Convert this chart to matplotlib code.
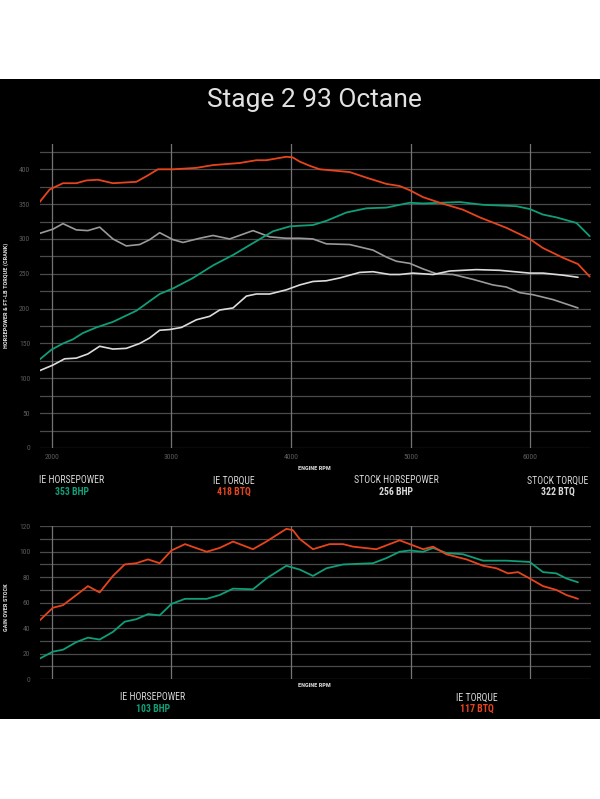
import matplotlib
matplotlib.use("Agg")
import matplotlib.pyplot as plt
from matplotlib.patches import Rectangle

# ---------------- data ----------------
title = "Stage 2 93 Octane"
x_ticks = [2000, 3000, 4000, 5000, 6000]
top_y_ticks = [0, 50, 100, 150, 200, 250, 300, 350, 400]
bottom_y_ticks = [0, 20, 40, 60, 80, 100, 120]

ie_tq_rpm = [1897, 1981, 2092, 2204, 2288, 2385, 2510, 2706, 2790, 2887, 3012, 3208, 3347, 3571, 3710,
             3794, 3961, 4015, 4073, 4157, 4240, 4491, 4631, 4798, 4909, 4993, 5105, 5244, 5439, 5579,
             5802, 5997, 6108, 6276, 6401, 6499]
ie_tq = [353, 371, 380, 380, 384, 385, 380, 382, 390, 400, 400, 402, 406, 409, 413,
         413, 418, 417, 411, 405, 400, 396, 388, 379, 376, 370, 360, 352, 342, 331,
         316, 300, 287, 273, 264, 246]

ie_hp_rpm = [1897, 1995, 2092, 2176, 2259, 2371, 2510, 2706, 2901, 3013, 3180, 3347, 3515, 3682, 3849,
             3989, 4073, 4184, 4296, 4464, 4631, 4798, 4993, 5105, 5412, 5607, 5886, 5997, 6108, 6220,
             6388, 6499]
ie_hp = [127, 141, 150, 156, 165, 173, 181, 197, 221, 229, 244, 262, 277, 294, 311,
         318, 319, 320, 326, 338, 344, 345, 352, 351, 353, 349, 347, 343, 335, 331,
         323, 304]

stock_tq_rpm = [1897, 2008, 2092, 2204, 2301, 2399, 2510, 2622, 2734, 2818, 2901, 3013, 3096, 3236, 3347,
                3487, 3682, 3822, 3961, 4073, 4184, 4296, 4491, 4686, 4798, 4882, 4993, 5105, 5217, 5356,
                5523, 5690, 5802, 5913, 6025, 6192, 6401]
stock_tq = [308, 314, 322, 313, 312, 317, 300, 290, 292, 299, 309, 299, 295, 301, 305,
            300, 312, 303, 301, 301, 300, 293, 292, 284, 274, 268, 265, 257, 250, 249,
            242, 234, 231, 223, 220, 213, 201]

stock_hp_rpm = [1897, 2008, 2106, 2204, 2301, 2399, 2510, 2622, 2734, 2818, 2901, 2985, 3083, 3208, 3320,
                3403, 3515, 3627, 3710, 3822, 3961, 4073, 4184, 4296, 4407, 4575, 4686, 4826, 4909, 5021,
                5189, 5328, 5551, 5746, 5997, 6108, 6276, 6401]
stock_hp = [111, 119, 128, 129, 135, 146, 142, 143, 150, 158, 169, 170, 173, 184, 189,
            198, 201, 218, 221, 221, 227, 234, 239, 240, 244, 252, 253, 249, 249, 251,
            249, 254, 256, 255, 251, 251, 248, 245]

gain_tq_rpm = [1897, 2008, 2092, 2204, 2301, 2399, 2510, 2608, 2706, 2804, 2901, 3000, 3113, 3295, 3403,
               3515, 3682, 3794, 3961, 4015, 4073, 4184, 4324, 4435, 4519, 4714, 4909, 4993, 5105, 5189,
               5300, 5468, 5607, 5719, 5816, 5900, 5997, 6108, 6220, 6304, 6401]
gain_tq = [46, 56, 58, 66, 73, 68, 81, 90, 91, 94, 91, 101, 106, 100, 103,
           108, 102, 108, 118, 117, 110, 102, 106, 106, 104, 102, 109, 106, 102, 104,
           98, 94, 89, 87, 83, 84, 79, 73, 70, 66, 63]

gain_hp_rpm = [1897, 2008, 2092, 2204, 2301, 2399, 2510, 2608, 2706, 2804, 2901, 3000, 3113, 3295, 3403,
               3515, 3682, 3794, 3961, 4073, 4184, 4296, 4435, 4686, 4798, 4909, 4993, 5105, 5189, 5300,
               5440, 5607, 5802, 5997, 6108, 6220, 6304, 6401]
gain_hp = [16, 21.5, 23, 29, 32.5, 31, 37, 45, 47, 51, 50, 59, 63, 63, 66,
           71, 70.5, 79, 89, 86, 81, 87, 90, 91, 95, 100, 101, 100, 103, 99,
           98, 93, 93, 92, 84, 83, 79, 76]

top_legend_titles = ["IE HORSEPOWER", "IE TORQUE", "STOCK HORSEPOWER", "STOCK TORQUE"]
top_legend_values = ["353 BHP", "418 BTQ", "256 BHP", "322 BTQ"]
bottom_legend_titles = ["IE HORSEPOWER", "IE TORQUE"]
bottom_legend_values = ["103 BHP", "117 BTQ"]

# ---------------- style ----------------
GREEN = "#0f9e78"
RED = "#e8441c"
STOCK_HP_C = "#dcdcdc"
STOCK_TQ_C = "#9a9a9a"
HGRID = "#4a4a4a"
VGRID = "#747474"
TICK_C = "#5a5a5a"
TEXT_C = "#d8d8d8"
FONT = ["Roboto Condensed", "Roboto", "DejaVu Sans"]
TITLE_FONT = ["Roboto", "DejaVu Sans"]

W, H = 600, 799
fig = plt.figure(figsize=(6, 7.99), dpi=100)
fig.patch.set_facecolor("white")
bg = Rectangle((0, 80 / H), 1, (719 - 79) / H, transform=fig.transFigure,
               facecolor="black", edgecolor="none", zorder=-10)
fig.add_artist(bg)


def fx(px):
    return px / W


def fy(py):
    return 1 - py / H


XMIN, XMAX = 1900, 6510


def setup_axes(ax, ymax, hstep, yticks, show_xlabels):
    ax.set_zorder(1)
    ax.set_facecolor("black")
    ax.set_xlim(XMIN, XMAX)
    ax.set_ylim(0, ymax)
    for s in ax.spines.values():
        s.set_visible(False)
    y = 0
    while y <= ymax + 1e-9:
        ax.axhline(y, color=HGRID, lw=0.9, zorder=1)
        y += hstep
    for xv in x_ticks:
        ax.axvline(xv, color=VGRID, lw=0.9, zorder=1)
    ax.set_yticks(yticks)
    ax.set_yticklabels([str(v) for v in yticks], color=TICK_C, fontsize=5.5, family=FONT)
    ax.tick_params(axis="y", length=0, pad=7)
    if show_xlabels:
        ax.set_xticks(x_ticks)
        ax.set_xticklabels([str(v) for v in x_ticks], color=TICK_C, fontsize=5.5, family=FONT)
        ax.tick_params(axis="x", length=0, pad=4)
    else:
        ax.set_xticks([])


line_kw = dict(solid_joinstyle="round", solid_capstyle="round")

# Top chart
ax1 = fig.add_axes([fx(40), fy(448), fx(551), (448 - 143.5) / H])
setup_axes(ax1, 437, 25, top_y_ticks, True)
ax1.plot(stock_tq_rpm, stock_tq, color=STOCK_TQ_C, lw=1.2, zorder=3, **line_kw)
ax1.plot(stock_hp_rpm, stock_hp, color=STOCK_HP_C, lw=1.2, zorder=3, **line_kw)
ax1.plot(ie_hp_rpm, ie_hp, color=GREEN, lw=1.3, zorder=4, **line_kw)
ax1.plot(ie_tq_rpm, ie_tq, color=RED, lw=1.3, zorder=4, **line_kw)

# Bottom chart
ax2 = fig.add_axes([fx(40), fy(679), fx(551), (679 - 526.3) / H])
setup_axes(ax2, 120, 10, bottom_y_ticks, False)
ax2.plot(gain_hp_rpm, gain_hp, color=GREEN, lw=1.3, zorder=4, **line_kw)
ax2.plot(gain_tq_rpm, gain_tq, color=RED, lw=1.3, zorder=4, **line_kw)

# Title
fig.text(fx(314), fy(99.5), title, color="#e2e2e2", fontsize=19, family=TITLE_FONT,
         ha="center", va="center", zorder=5)

# axis labels
lab_kw = dict(color=TEXT_C, fontsize=4.6, fontweight="bold", family=FONT, ha="center", va="center", zorder=5)
fig.text(fx(314.5), fy(468), "ENGINE RPM", **lab_kw)
fig.text(fx(314.5), fy(685.7), "ENGINE RPM", **lab_kw)
fig.text(fx(6.5), fy(295), "HORSEPOWER & FT-LB TORQUE (CRANK)", rotation=90, **lab_kw)
fig.text(fx(6.5), fy(607), "GAIN OVER STOCK", rotation=90, **lab_kw)

# legends
top_centers = [72, 234, 396, 558]
top_value_colors = [GREEN, RED, TEXT_C, TEXT_C]
for cx, t, v, c in zip(top_centers, top_legend_titles, top_legend_values, top_value_colors):
    fig.text(fx(cx), fy(480.5), t, color=TEXT_C, fontsize=7, family=FONT, ha="center", va="center")
    fig.text(fx(cx), fy(491.5), v, color=c, fontsize=7, family=FONT, fontweight="bold",
             ha="center", va="center")

bottom_centers = [153, 477]
bottom_value_colors = [GREEN, RED]
for cx, t, v, c in zip(bottom_centers, bottom_legend_titles, bottom_legend_values, bottom_value_colors):
    fig.text(fx(cx), fy(697.5), t, color=TEXT_C, fontsize=7, family=FONT, ha="center", va="center")
    fig.text(fx(cx), fy(708.5), v, color=c, fontsize=7, family=FONT, fontweight="bold",
             ha="center", va="center")

fig.savefig("out.png", dpi=100, facecolor="white")
